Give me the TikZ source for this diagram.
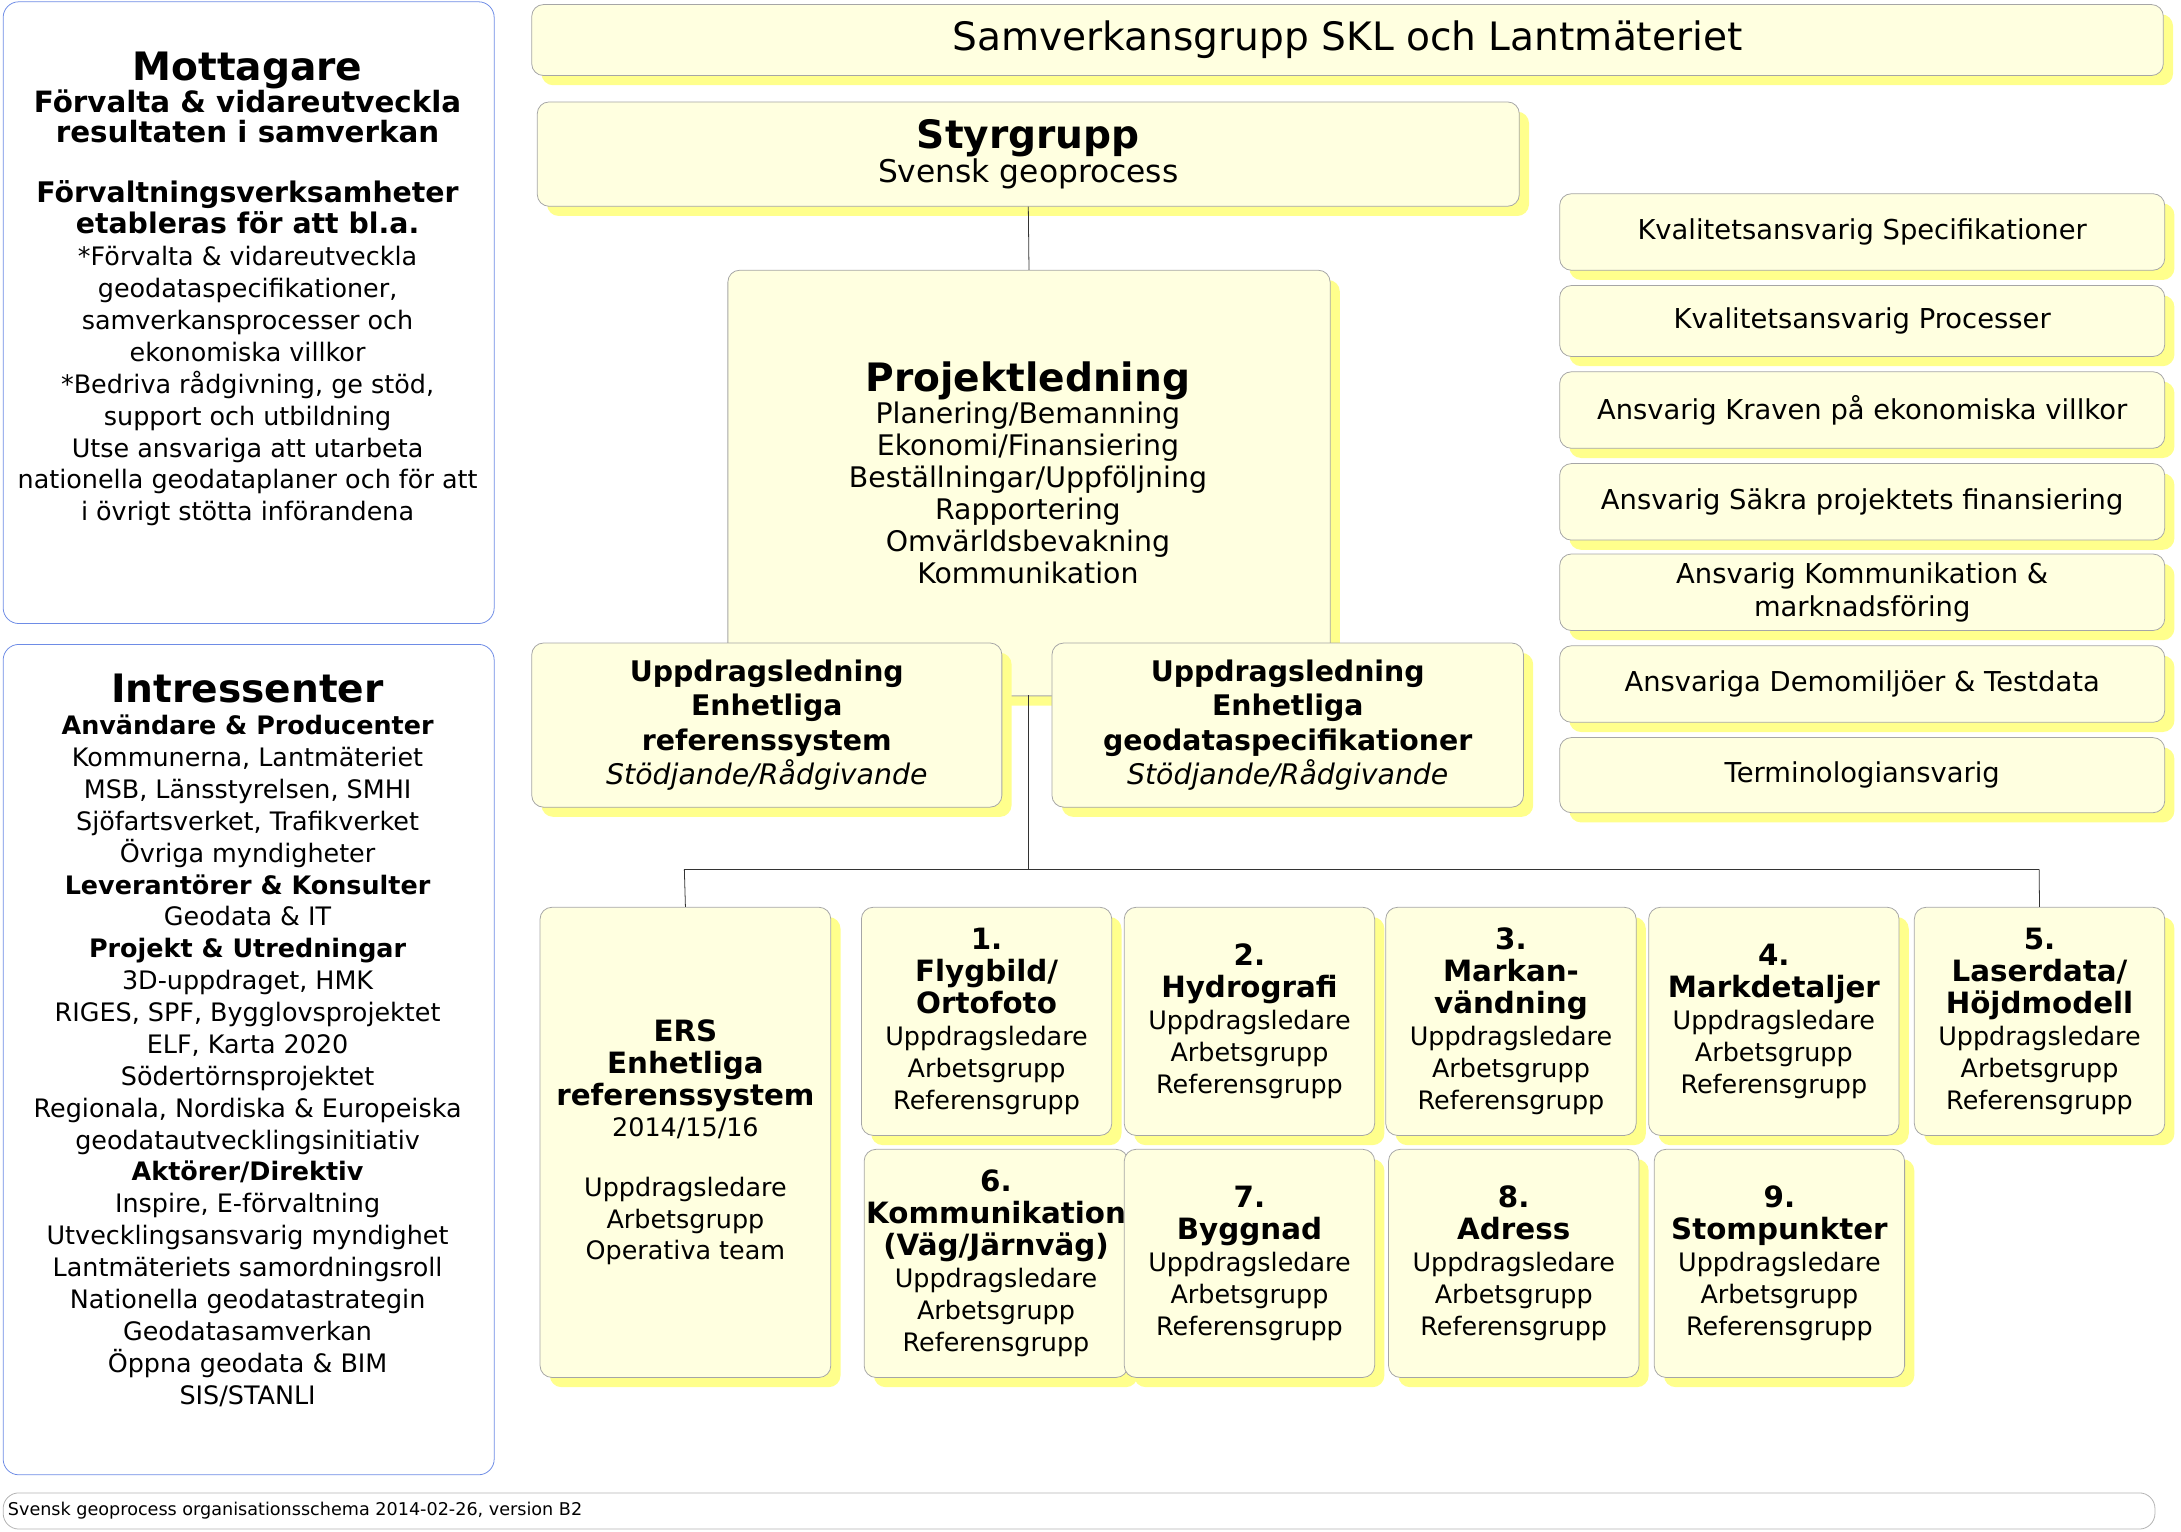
\documentclass[tikz,border=0pt]{standalone}
\usepackage{fontspec}
\setmainfont{DejaVu Sans}
\usetikzlibrary{shadows}
\definecolor{cream}{RGB}{255,255,224}
\definecolor{shade}{RGB}{255,255,140}
\definecolor{frame}{RGB}{110,140,230}
\newcommand{\px}{0.025cm}
\newcommand{\hd}[1]{{\bfseries\fontsize{15}{18}\selectfont #1}}
\newcommand{\roles}{Uppdragsledare\\ Arbetsgrupp\\ Referensgrupp}
\begin{document}
\begin{tikzpicture}[
    x=0.025cm, y=-0.025cm,
    every node/.style={inner sep=1pt, align=center, font=\fontsize{13}{16.3}\selectfont},
    box/.style={draw=gray!70, fill=cream, rounded corners=6pt, anchor=north west,
        general shadow={fill=shade, shadow xshift=7*\px, shadow yshift=-7*\px}},
    teambox/.style={box, minimum width=180*\px, minimum height=164*\px},
    side/.style={draw=frame, fill=white, rounded corners=8pt, anchor=north west},
    head/.style={font=\fontsize{14.5}{17.5}\selectfont\bfseries},
    line/.style={draw=black!80, thin}
]
\useasboundingbox (0,0) rectangle (1568,1101);

% left column
\node[side, minimum width=353*\px, minimum height=447*\px] (mottagare) at (2,1) {};
\node[anchor=north] at (178,36) {{\fontsize{20}{24}\selectfont\bfseries Mottagare}\\
  {\fontsize{15}{28}\selectfont\bfseries Förvalta \& vidareutveckla}\\[-1pt]
  {\fontsize{15}{18}\selectfont\bfseries resultaten i samverkan}\\[14pt]
  {\fontsize{14.5}{18}\selectfont\bfseries Förvaltningsverksamheter}\\
  {\fontsize{14.5}{18}\selectfont\bfseries etableras för att bl.a.}\\
  *Förvalta \& vidareutveckla\\ geodataspecifikationer,\\ samverkansprocesser och\\ ekonomiska villkor\\
  *Bedriva rådgivning, ge stöd,\\ support och utbildning\\ Utse ansvariga att utarbeta\\
  nationella geodataplaner och för att\\ i övrigt stötta införandena};
\node[side, minimum width=353*\px, minimum height=597*\px] (intressenter) at (2,463) {};
\node[anchor=north] at (178,483) {{\fontsize{20}{24}\selectfont\bfseries Intressenter}\\
  {\bfseries Användare \& Producenter}\\ Kommunerna, Lantmäteriet\\ MSB, Länsstyrelsen, SMHI\\
  Sjöfartsverket, Trafikverket\\ Övriga myndigheter\\
  {\bfseries Leverantörer \& Konsulter}\\ Geodata \& IT\\
  {\bfseries Projekt \& Utredningar}\\ 3D-uppdraget, HMK\\ RIGES, SPF, Bygglovsprojektet\\
  ELF, Karta 2020\\ Södertörnsprojektet\\ Regionala, Nordiska \& Europeiska\\ geodatautvecklingsinitiativ\\
  {\bfseries Aktörer/Direktiv}\\ Inspire, E-förvaltning\\ Utvecklingsansvarig myndighet\\
  Lantmäteriets samordningsroll\\ Nationella geodatastrategin\\ Geodatasamverkan\\
  Öppna geodata \& BIM\\ SIS/STANLI};
\node[draw=gray!60, rounded corners=8pt, anchor=north west, minimum width=1547*\px,
    minimum height=26*\px] (footer) at (2,1073) {};
\node[anchor=west, font=\fontsize{9}{11}\selectfont] at (4,1086) {Svensk geoprocess organisationsschema 2014-02-26, version B2};

% top
\node[box, minimum width=1173*\px, minimum height=51*\px, font=\fontsize{20}{24}\selectfont] (samverkan) at (382,3) {Samverkansgrupp SKL och Lantmäteriet};
\node[box, minimum width=706*\px, minimum height=75*\px] (styrgrupp) at (386,73)
  {{\fontsize{20}{24}\selectfont\bfseries Styrgrupp}\\ {\fontsize{16}{19}\selectfont Svensk geoprocess}};
\node[box, minimum width=433*\px, minimum height=306*\px] (projekt) at (523,194) {};
\node at (739,340) {{\fontsize{20}{26}\selectfont\bfseries Projektledning}\\ {\fontsize{14.5}{18}\selectfont Planering/Bemanning}\\
  {\fontsize{14.5}{18}\selectfont Ekonomi/Finansiering}\\ {\fontsize{14.5}{18}\selectfont Beställningar/Uppföljning}\\
  {\fontsize{14.5}{18}\selectfont Rapportering}\\ {\fontsize{14.5}{18}\selectfont Omvärldsbevakning}\\ {\fontsize{14.5}{18}\selectfont Kommunikation}};
\draw[line] (styrgrupp.south) -- (projekt.north);
\node[box, minimum width=338*\px, minimum height=118*\px, head] (uppdrag1) at (382,462)
  {Uppdragsledning\\ Enhetliga\\ referenssystem\\ {\normalfont\itshape\fontsize{14.5}{17.5}\selectfont Stödjande/Rådgivande}};
\node[box, minimum width=339*\px, minimum height=118*\px, head] (uppdrag2) at (756,462)
  {Uppdragsledning\\ Enhetliga\\ geodataspecifikationer\\ {\normalfont\itshape\fontsize{14.5}{17.5}\selectfont Stödjande/Rådgivande}};

% right list
\foreach \y/\h/\t [count=\i] in {139/55/Kvalitetsansvarig Specifikationer, 205/51/Kvalitetsansvarig Processer,
    267/55/Ansvarig Kraven på ekonomiska villkor, 333/55/Ansvarig Säkra projektets finansiering,
    398/55/{Ansvarig Kommunikation \&\\ marknadsföring}, 464/55/Ansvariga Demomiljöer \& Testdata,
    530/54/Terminologiansvarig}
  \node[box, minimum width=435*\px, minimum height=\h*\px, font=\fontsize{14}{17}\selectfont] (roll\i) at (1121,\y) {\t};

% teams
\coordinate (split) at (739,625);
\coordinate (leftend) at (492,625);
\coordinate (rightend) at (1466,625);
\draw[line] (739,500) -- (split);
\draw[line] (leftend) -- (rightend);
\node[box, minimum width=209*\px, minimum height=338*\px] (ers) at (388,652)
  {\hd{ERS}\\ \hd{Enhetliga}\\ \hd{referenssystem}\\ 2014/15/16\\[14pt] Uppdragsledare\\ Arbetsgrupp\\ Operativa team};
\node[teambox] (team1) at (619,652) {\hd{1.}\\ \hd{Flygbild/}\\ \hd{Ortofoto}\\ \roles};
\node[teambox] (team2) at (808,652) {\hd{2.}\\ \hd{Hydrografi}\\ \roles};
\node[teambox] (team3) at (996,652) {\hd{3.}\\ \hd{Markan-}\\ \hd{vändning}\\ \roles};
\node[teambox] (team4) at (1185,652) {\hd{4.}\\ \hd{Markdetaljer}\\ \roles};
\node[teambox] (team5) at (1376,652) {\hd{5.}\\ \hd{Laserdata/}\\ \hd{Höjdmodell}\\ \roles};
\node[teambox] (team6) at (621,826) {\hd{6.}\\ \hd{Kommunikation}\\ \hd{(Väg/Järnväg)}\\ \roles};
\node[teambox] (team7) at (808,826) {\hd{7.}\\ \hd{Byggnad}\\ \roles};
\node[teambox] (team8) at (998,826) {\hd{8.}\\ \hd{Adress}\\ \roles};
\node[teambox] (team9) at (1189,826) {\hd{9.}\\ \hd{Stompunkter}\\ \roles};
\draw[line] (leftend) -- (ers.north);
\draw[line] (rightend) -- (team5.north);
\end{tikzpicture}
\end{document}
